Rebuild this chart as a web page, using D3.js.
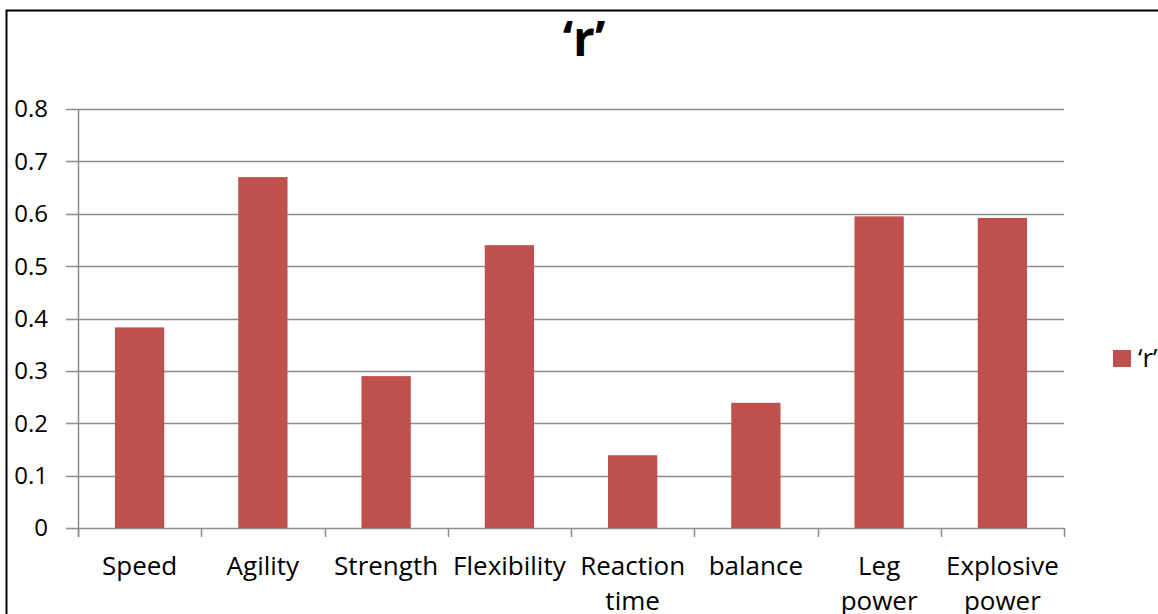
<!DOCTYPE html>
<html>
<head>
<meta charset="utf-8">
<script src="https://cdn.jsdelivr.net/npm/d3@7"></script>
<style>
  body { margin: 0; background: #fff; }
  svg { display: block; font-family: "Open Sans", Lato, sans-serif; }
</style>
</head>
<body>
<script>
// Chart data
var categories = ["Speed", "Agility", "Strength", "Flexibility", "Reaction time", "balance", "Leg power", "Explosive power"];
var rValues = [0.383, 0.670, 0.290, 0.540, 0.139, 0.239, 0.595, 0.592];
var yTicks = [0, 0.1, 0.2, 0.3, 0.4, 0.5, 0.6, 0.7, 0.8];
var seriesName = "\u2018r\u2019";

var width = 1158, height = 614;
var plot = { left: 78, right: 1064, top: 109, bottom: 528 };
var barColor = "#C0504D";

var svg = d3.select("body").append("svg")
    .attr("width", width)
    .attr("height", height);

svg.append("rect")
    .attr("width", width).attr("height", height)
    .attr("fill", "#fff");

// outer chart border
svg.append("rect")
    .attr("x", 6.5).attr("y", 10.5)
    .attr("width", 1200).attr("height", 700)
    .attr("fill", "none")
    .attr("stroke", "#000")
    .attr("stroke-width", 2);

var x = d3.scaleBand()
    .domain(categories)
    .range([plot.left, plot.right])
    .paddingInner(0.6)
    .paddingOuter(0.3);

var xBounds = d3.scaleLinear()
    .domain([0, categories.length])
    .range([plot.left, plot.right]);

var y = d3.scaleLinear()
    .domain([0, 0.8])
    .range([plot.bottom, plot.top]);

// gridlines
svg.append("g").selectAll("line")
    .data(yTicks)
    .enter().append("line")
    .attr("x1", plot.left - 12)
    .attr("x2", plot.right)
    .attr("y1", function(d) { return Math.round(y(d)) + 0.5; })
    .attr("y2", function(d) { return Math.round(y(d)) + 0.5; })
    .attr("stroke", "#8c8c8c")
    .attr("stroke-width", 1.5);

// y labels
svg.append("g").selectAll("text")
    .data(yTicks)
    .enter().append("text")
    .attr("x", 48)
    .attr("y", function(d) { return y(d); })
    .attr("dy", "0.35em")
    .attr("text-anchor", "end")
    .attr("font-size", 24)
    .attr("fill", "#000")
    .text(function(d) { return d === 0 ? "0" : d3.format(".1f")(d); });

// y axis line
svg.append("line")
    .attr("x1", plot.left + 0.5).attr("x2", plot.left + 0.5)
    .attr("y1", plot.top).attr("y2", plot.bottom + 9)
    .attr("stroke", "#8c8c8c")
    .attr("stroke-width", 1.5);

// category tick marks
svg.append("g").selectAll("line")
    .data(d3.range(categories.length + 1))
    .enter().append("line")
    .attr("x1", function(d) { return Math.round(xBounds(d)) + 0.5; })
    .attr("x2", function(d) { return Math.round(xBounds(d)) + 0.5; })
    .attr("y1", plot.bottom)
    .attr("y2", plot.bottom + 9)
    .attr("stroke", "#8c8c8c")
    .attr("stroke-width", 1.5);

// bars
svg.append("g").selectAll("rect")
    .data(rValues)
    .enter().append("rect")
    .attr("x", function(d, i) { return x(categories[i]); })
    .attr("width", x.bandwidth())
    .attr("y", function(d) { return y(d); })
    .attr("height", function(d) { return y(0) - y(d); })
    .attr("fill", barColor);

// category labels (wrapped like the original)
var labelLines = {
  "Reaction time": ["Reaction", "time"],
  "Leg power": ["Leg", "power"],
  "Explosive power": ["Explosive", "power"]
};
var catLabels = svg.append("g").selectAll("text")
    .data(categories)
    .enter().append("text")
    .attr("text-anchor", "middle")
    .attr("font-size", 26)
    .attr("fill", "#000");

catLabels.each(function(d) {
  var lines = labelLines[d] || [d];
  var cx = x(d) + x.bandwidth() / 2;
  d3.select(this).selectAll("tspan")
    .data(lines)
    .enter().append("tspan")
    .attr("x", cx)
    .attr("y", function(l, j) { return 575 + j * 35; })
    .text(function(l) { return l; });
});

// title
svg.append("text")
    .attr("x", 584)
    .attr("y", 56)
    .attr("text-anchor", "middle")
    .attr("font-size", 48)
    .attr("font-weight", "bold")
    .text(seriesName);

// legend
svg.append("rect")
    .attr("x", 1113).attr("y", 350)
    .attr("width", 18).attr("height", 17)
    .attr("fill", barColor);

svg.append("text")
    .attr("x", 1138)
    .attr("y", 358)
    .attr("dy", "0.35em")
    .attr("font-size", 26)
    .text(seriesName);
</script>
</body>
</html>
